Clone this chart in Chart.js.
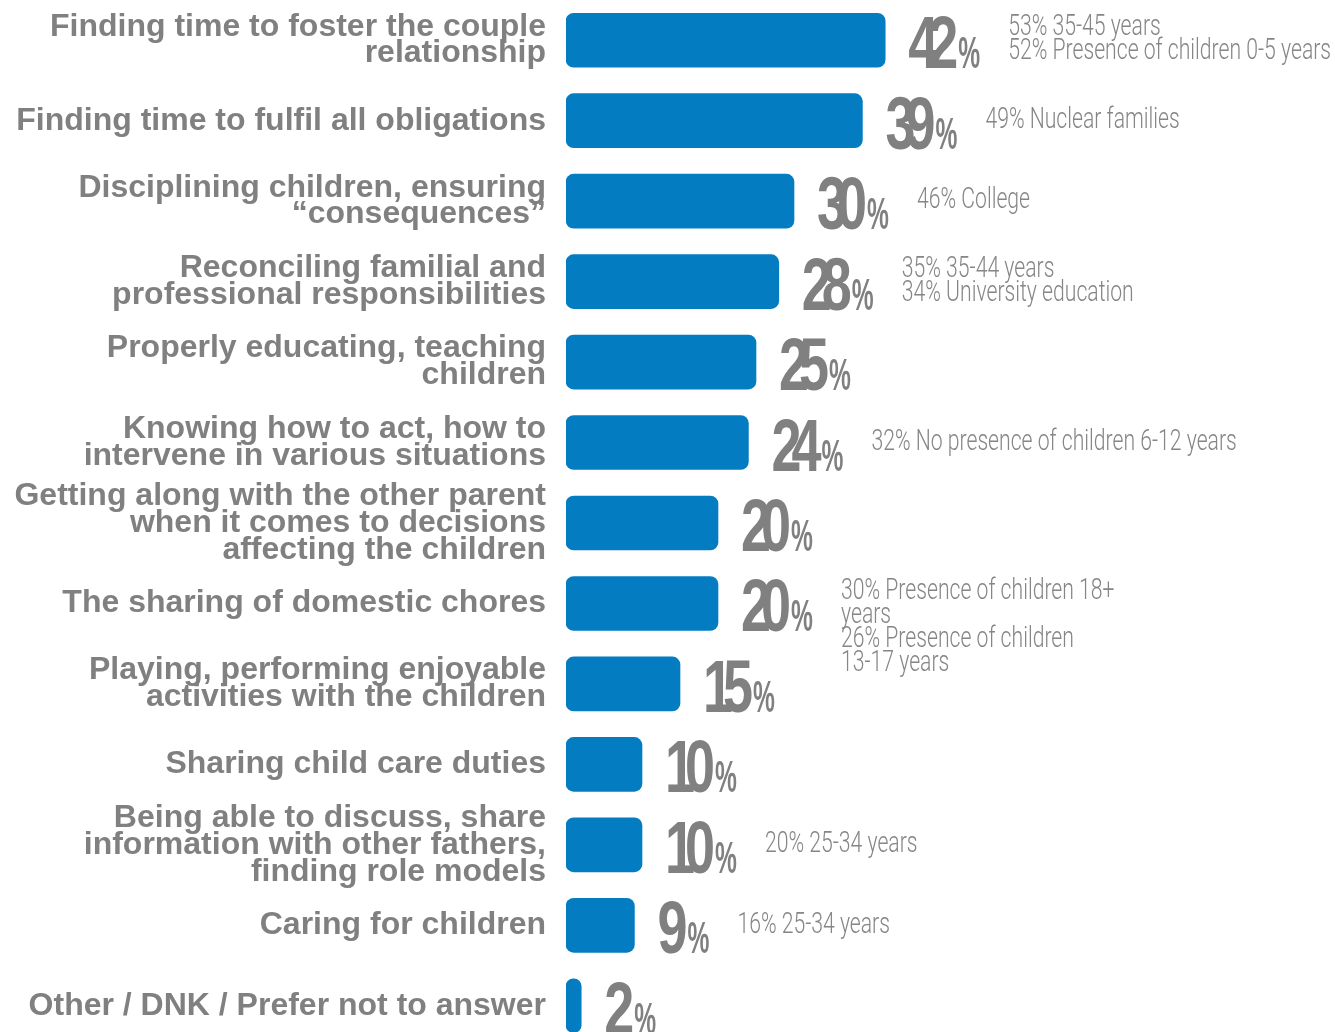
<!DOCTYPE html>
<html>
<head>
<meta charset="utf-8">
<script src="https://cdn.jsdelivr.net/npm/chart.js@4.4.1/dist/chart.umd.min.js"></script>
<style>
  html, body { margin: 0; padding: 0; background: #fff; overflow: hidden; }
  canvas { display: block; }
</style>
</head>
<body>
<canvas id="chart" width="1335" height="1046"></canvas>
<script>
// Libellés (découpés en lignes comme sur l'affiche)
const categories = [
    ["Finding time to foster the couple", "relationship"],
    ["Finding time to fulfil all obligations"],
    ["Disciplining children, ensuring", "\u201cconsequences\u201d"],
    ["Reconciling familial and", "professional responsibilities"],
    ["Properly educating, teaching", "children"],
    ["Knowing how to act, how to", "intervene in various situations"],
    ["Getting along with the other parent", "when it comes to decisions", "affecting the children"],
    ["The sharing of domestic chores"],
    ["Playing, performing enjoyable", "activities with the children"],
    ["Sharing child care duties"],
    ["Being able to discuss, share", "information with other fathers,", "finding role models"],
    ["Caring for children"],
    ["Other / DNK / Prefer not to answer"]
];

// Pourcentages
const values = [42, 39, 30, 28, 25, 24, 20, 20, 15, 10, 10, 9, 2];

// Notes de sous-groupes à droite des barres
const notes = [
    ["53% 35-45 years", "52% Presence of children 0-5 years"],
    ["49% Nuclear families"],
    ["46% College"],
    ["35% 35-44 years", "34% University education"],
    [],
    ["32% No presence of children 6-12 years"],
    [],
    ["30% Presence of children 18+", "years", "26% Presence of children", "13-17 years"],
    [],
    [],
    ["20% 25-34 years"],
    ["16% 25-34 years"],
    []
];

const GRAY = '#808080';
const BLUE = '#047cc2';

// Chiffres condensés + notes
const valueLabels = {
    id: 'valueLabels',
    afterDatasetsDraw(chart) {
        const ctx = chart.ctx;
        const meta = chart.getDatasetMeta(0);
        meta.data.forEach((bar, i) => {
            const digits = String(values[i]);
            const baseline = bar.y + 28;
            const x = bar.x + 23;

            ctx.save();
            ctx.fillStyle = GRAY;
            ctx.textBaseline = 'alphabetic';
            ctx.textAlign = 'left';
            ctx.font = 'bold 75px "Liberation Sans", Arial, sans-serif';
            for (let d = 0; d < digits.length; d++) {
                ctx.save();
                ctx.translate(x + d * 20, baseline);
                ctx.scale(0.72, 1);
                ctx.fillText(digits[d], 0, 0);
                ctx.restore();
            }
            const pctX = x + (digits.length - 1) * 20 + 30;
            ctx.font = 'bold 44px "Liberation Sans", Arial, sans-serif';
            ctx.save();
            ctx.translate(pctX, baseline);
            ctx.scale(0.56, 1);
            ctx.fillText('%', 0, 0);
            ctx.restore();

            // notes
            const lines = notes[i];
            if (lines.length) {
                const nx = pctX + 50;
                const ny = lines.length > 1 ? bar.y - 12 : bar.y;
                ctx.fillStyle = '#868686';
                ctx.textBaseline = 'middle';
                ctx.font = '300 29px Roboto, "Liberation Sans", sans-serif';
                lines.forEach((line, k) => {
                    ctx.save();
                    ctx.translate(nx, ny + k * 24);
                    ctx.scale(0.73, 1);
                    ctx.fillText(line, 0, 0);
                    ctx.restore();
                });
            }
            ctx.restore();
        });
    }
};

new Chart(document.getElementById('chart'), {
    type: 'bar',
    data: {
        labels: categories,
        datasets: [{
            data: values,
            backgroundColor: BLUE,
            borderWidth: 0,
            borderRadius: 8,
            borderSkipped: false,
            barThickness: 54
        }]
    },
    options: {
        indexAxis: 'y',
        responsive: false,
        animation: false,
        layout: { padding: { left: 0, right: 9, top: 0, bottom: 0 } },
        plugins: {
            legend: { display: false },
            tooltip: { enabled: false }
        },
        scales: {
            x: { display: false, min: 0, max: 100 },
            y: {
                grid: { display: false, drawTicks: false },
                border: { display: false },
                afterFit: (scale) => {
                    scale.width = 566;
                    scale.paddingTop = 0;
                    scale.paddingBottom = 0;
                },
                ticks: {
                    autoSkip: false,
                    color: GRAY,
                    padding: 20,
                    font: { family: '"Liberation Sans", Arial, sans-serif', size: 32, weight: 'bold', lineHeight: 0.84 }
                }
            }
        }
    },
    plugins: [valueLabels]
});
</script>
</body>
</html>
